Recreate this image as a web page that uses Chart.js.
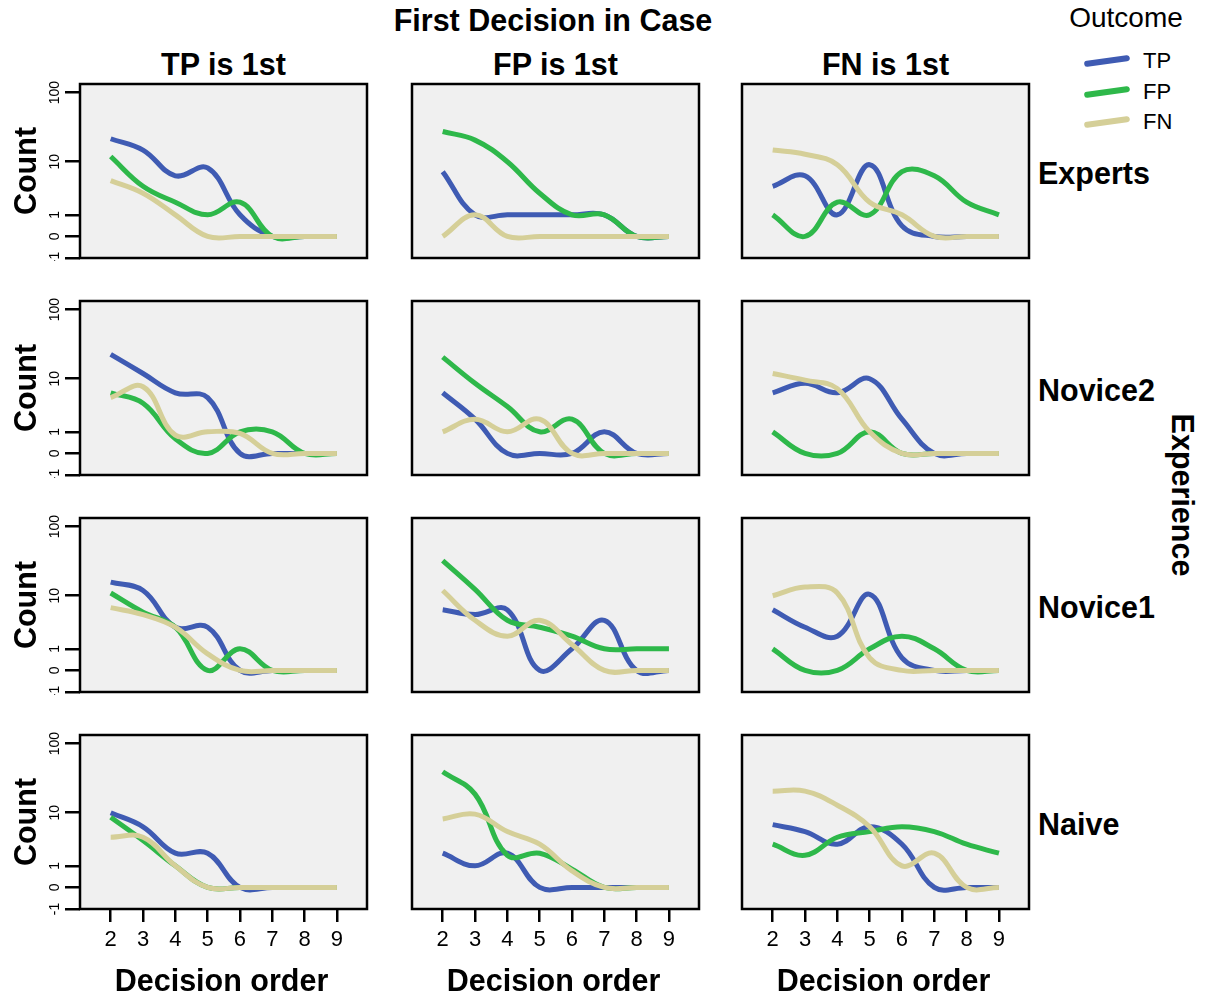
<!DOCTYPE html>
<html>
<head>
<meta charset="utf-8">
<script src="https://cdn.jsdelivr.net/npm/chart.js@4.4.0/dist/chart.umd.min.js"></script>
<style>
  body { margin: 0; background: #fff; font-family: 'Liberation Sans', Arial, sans-serif; }
  #fig { position: relative; width: 1205px; height: 997px; overflow: hidden; }
  .t { position: absolute; color: #000; white-space: nowrap; line-height: 1; transform: translate(-50%, -50%); }
  .b { font-weight: bold; font-size: 30.5px; }
  .rl { transform: translate(0, -50%); }
  .up { transform: translate(-50%, -50%) rotate(-90deg); }
  .down { transform: translate(-50%, -50%) rotate(90deg); }
  canvas { position: absolute; }
  .sw { position: absolute; width: 46px; height: 6px; border-radius: 3px; transform: translate(-50%, -50%) rotate(-8deg); }
</style>
</head>
<body>
<div id="fig"></div>
<script>
const decisionOrder = [2, 3, 4, 5, 6, 7, 8, 9];
const firstDecisions = ['TP is 1st', 'FP is 1st', 'FN is 1st'];
const experienceLevels = ['Experts', 'Novice2', 'Novice1', 'Naive'];
const outcomeNames = ['TP', 'FP', 'FN'];
const outcomeColors = ['#3f5bb3', '#2eb84a', '#d5cf98'];
const countTicks = [-1, 0, 1, 10, 100];

// counts by decision order, one object per panel (experience x first decision)
const expertsTP = { TP: [22, 15, 6, 8, 1, 0, 0, 0], FP: [12, 4, 2, 1, 2, 0, 0, 0], FN: [5, 3, 1, 0, 0, 0, 0, 0] };
const expertsFP = { TP: [7, 1, 1, 1, 1, 1, 0, 0], FP: [28, 21, 10, 3, 1, 1, 0, 0], FN: [0, 1, 0, 0, 0, 0, 0, 0] };
const expertsFN = { TP: [4, 6, 1, 9, 0.4, 0, 0, 0], FP: [1, 0, 2, 1, 7, 6, 2, 1], FN: [15, 13, 9, 2, 1, 0, 0, 0] };

const novice2TP = { TP: [23, 12, 6, 5, 0, 0, 0, 0], FP: [6, 4, 0.6, 0, 1, 1, 0, 0], FN: [5, 7.5, 0.8, 1, 0.9, 0, 0, 0] };
const novice2FP = { TP: [6, 2, 0, 0, 0, 1, 0, 0], FP: [21, 8.5, 3.5, 1, 2, 0, 0, 0], FN: [1, 2, 1, 2, 0, 0, 0, 0] };
const novice2FN = { TP: [6, 8.5, 6, 10, 2, 0, 0, 0], FP: [1, 0, 0, 1, 0, 0, 0, 0], FN: [12, 9.5, 7, 1, 0, 0, 0, 0] };

const novice1TP = { TP: [16, 12, 3, 3, 0, 0, 0, 0], FP: [11, 5.5, 3, 0, 1, 0, 0, 0], FN: [6.5, 5, 3, 0.7, 0, 0, 0, 0] };
const novice1FP = { TP: [6, 5, 6, 0, 1, 4, 0, 0], FP: [33, 12.5, 4, 3, 2, 1, 1, 1], FN: [12, 4, 2, 4, 1.3, 0, 0, 0] };
const novice1FN = { TP: [6, 3, 2, 10.5, 0.5, 0, 0, 0], FP: [1, 0, 0, 1, 2, 1, 0, 0], FN: [10, 13.5, 11, 0.5, 0, 0, 0, 0] };

const naiveTP = { TP: [10, 6, 2, 2, 0, 0, 0, 0], FP: [8.5, 3.5, 1, 0, 0, 0, 0, 0], FN: [4, 4, 1, 0, 0, 0, 0, 0] };
const naiveFP = { TP: [2, 1, 2, 0, 0, 0, 0, 0], FP: [40, 19, 1.8, 2, 0.8, 0, 0, 0], FN: [8, 9.5, 5, 3, 0.7, 0, 0, 0] };
const naiveFN = { TP: [6.5, 5, 3, 6, 3, 0, 0, 0], FP: [3, 1.8, 4, 5, 6, 5, 3, 2], FN: [21, 21, 13, 6, 1, 2, 0, 0] };

const panels = [
    [expertsTP, expertsFP, expertsFN],
    [novice2TP, novice2FP, novice2FN],
    [novice1TP, novice1FP, novice1FN],
    [naiveTP, naiveFP, naiveFN]
];

// sign(x) * log10(1 + |x|), the axis transform of the original plot
const pseudoLog = v => Math.sign(v) * Math.log10(1 + Math.abs(v));

const colLeft = [80, 412, 742];
const rowTop = [84, 301, 518, 735];
const panelW = 287, panelH = 174;
const yAxisW = 45, xAxisH = 55;

const fig = document.getElementById('fig');

function addText(txt, x, y, cls, style) {
    const d = document.createElement('div');
    d.className = 't ' + cls;
    d.textContent = txt;
    d.style.left = x + 'px';
    d.style.top = y + 'px';
    if (style) Object.assign(d.style, style);
    fig.appendChild(d);
    return d;
}

const panelBox = {
    id: 'panelBox',
    beforeDraw(chart) {
        const a = chart.chartArea, ctx = chart.ctx;
        ctx.save();
        ctx.fillStyle = '#f0f0f0';
        ctx.fillRect(a.left, a.top, a.right - a.left, a.bottom - a.top);
        ctx.restore();
    },
    afterDraw(chart, args, opts) {
        const a = chart.chartArea, ctx = chart.ctx;
        ctx.save();
        ctx.strokeStyle = '#000';
        ctx.lineWidth = 2.5;
        ctx.strokeRect(a.left, a.top, a.right - a.left, a.bottom - a.top);
        if (opts.yLabels) {
            const ys = chart.scales.y;
            ctx.fillStyle = '#000';
            ctx.font = '14px "Liberation Sans", Arial, sans-serif';
            ctx.textAlign = 'center';
            ctx.textBaseline = 'middle';
            ys.ticks.forEach(t => {
                const py = ys.getPixelForValue(t.value);
                ctx.save();
                ctx.translate(a.left - 25, py);
                ctx.rotate(-Math.PI / 2);
                ctx.fillText(t.label, 0, 0);
                ctx.restore();
            });
        }
        ctx.restore();
    }
};

function countLabel(v) {
    const c = countTicks.find(t => Math.abs(pseudoLog(t) - v) < 1e-9);
    return c === undefined ? '' : String(c);
}

function makePanel(row, col) {
    const showY = col === 0, showX = row === 3;
    const canvas = document.createElement('canvas');
    const left = colLeft[col] - (showY ? yAxisW : 3);
    const top = rowTop[row] - 3;
    const w = panelW + (showY ? yAxisW : 3) + 3;
    const h = panelH + 3 + (showX ? xAxisH : 3);
    canvas.width = w; canvas.height = h;
    canvas.style.left = left + 'px';
    canvas.style.top = top + 'px';
    fig.appendChild(canvas);

    const data = panels[row][col];
    const datasets = outcomeNames.map((name, i) => ({
        label: name,
        data: decisionOrder.map((x, k) => ({ x: x, y: pseudoLog(data[name][k]) })),
        borderColor: outcomeColors[i],
        borderWidth: 5,
        pointRadius: 0,
        tension: 0.4,
        fill: false,
        order: 2 - i
    }));

    new Chart(canvas.getContext('2d'), {
        type: 'line',
        data: { datasets: datasets },
        options: {
            responsive: false,
            animation: false,
            events: [],
            layout: { padding: { left: showY ? 0 : 3, right: 3, top: 3, bottom: showX ? 0 : 3 } },
            plugins: { legend: { display: false }, tooltip: { enabled: false }, panelBox: { yLabels: showY } },
            scales: {
                x: {
                    type: 'linear',
                    min: 1.05, max: 9.93,
                    display: showX,
                    afterBuildTicks: s => { s.ticks = decisionOrder.map(v => ({ value: v })); },
                    afterFit: s => { s.height = showX ? xAxisH : 0; },
                    grid: { drawOnChartArea: false, drawTicks: true, tickLength: 13, color: '#000', lineWidth: 2.5 },
                    border: { display: false },
                    ticks: { autoSkip: false, maxRotation: 0, color: '#000', padding: 5,
                             font: { family: "'Liberation Sans', Arial, sans-serif", size: 22 } }
                },
                y: {
                    type: 'linear',
                    min: pseudoLog(-1), max: 2.125,
                    display: showY,
                    afterBuildTicks: s => { s.ticks = countTicks.map(v => ({ value: pseudoLog(v) })); },
                    afterFit: s => { s.width = showY ? yAxisW : 0; },
                    grid: { drawOnChartArea: false, drawTicks: true, tickLength: 15, color: '#000', lineWidth: 2.5 },
                    border: { display: false },
                    ticks: { display: false, callback: v => countLabel(v) }
                }
            }
        },
        plugins: [panelBox]
    });
}

for (let r = 0; r < 4; r++) {
    for (let c = 0; c < 3; c++) makePanel(r, c);
}

// titles and labels
addText('First Decision in Case', 553, 20, 'b');
firstDecisions.forEach((t, c) => addText(t, colLeft[c] + panelW / 2, 64, 'b'));
experienceLevels.forEach((t, r) => addText(t, 1038, rowTop[r] + panelH / 2 + 2, 'b rl'));
experienceLevels.forEach((t, r) => addText('Count', 25, rowTop[r] + panelH / 2, 'b up'));
firstDecisions.forEach((t, c) => addText('Decision order', colLeft[c] + panelW / 2 - 2, 980, 'b'));
addText('Experience', 1183, 495, 'b down');

// legend
addText('Outcome', 1126, 18, '', { fontSize: '28px' });
outcomeNames.forEach((n, i) => {
    const y = 61 + i * 30.5;
    const sw = document.createElement('div');
    sw.className = 'sw';
    sw.style.left = '1107px';
    sw.style.top = y + 'px';
    sw.style.background = outcomeColors[i];
    fig.appendChild(sw);
    addText(n, 1143, y, 'rl', { fontSize: '22px' });
});
</script>
</body>
</html>
